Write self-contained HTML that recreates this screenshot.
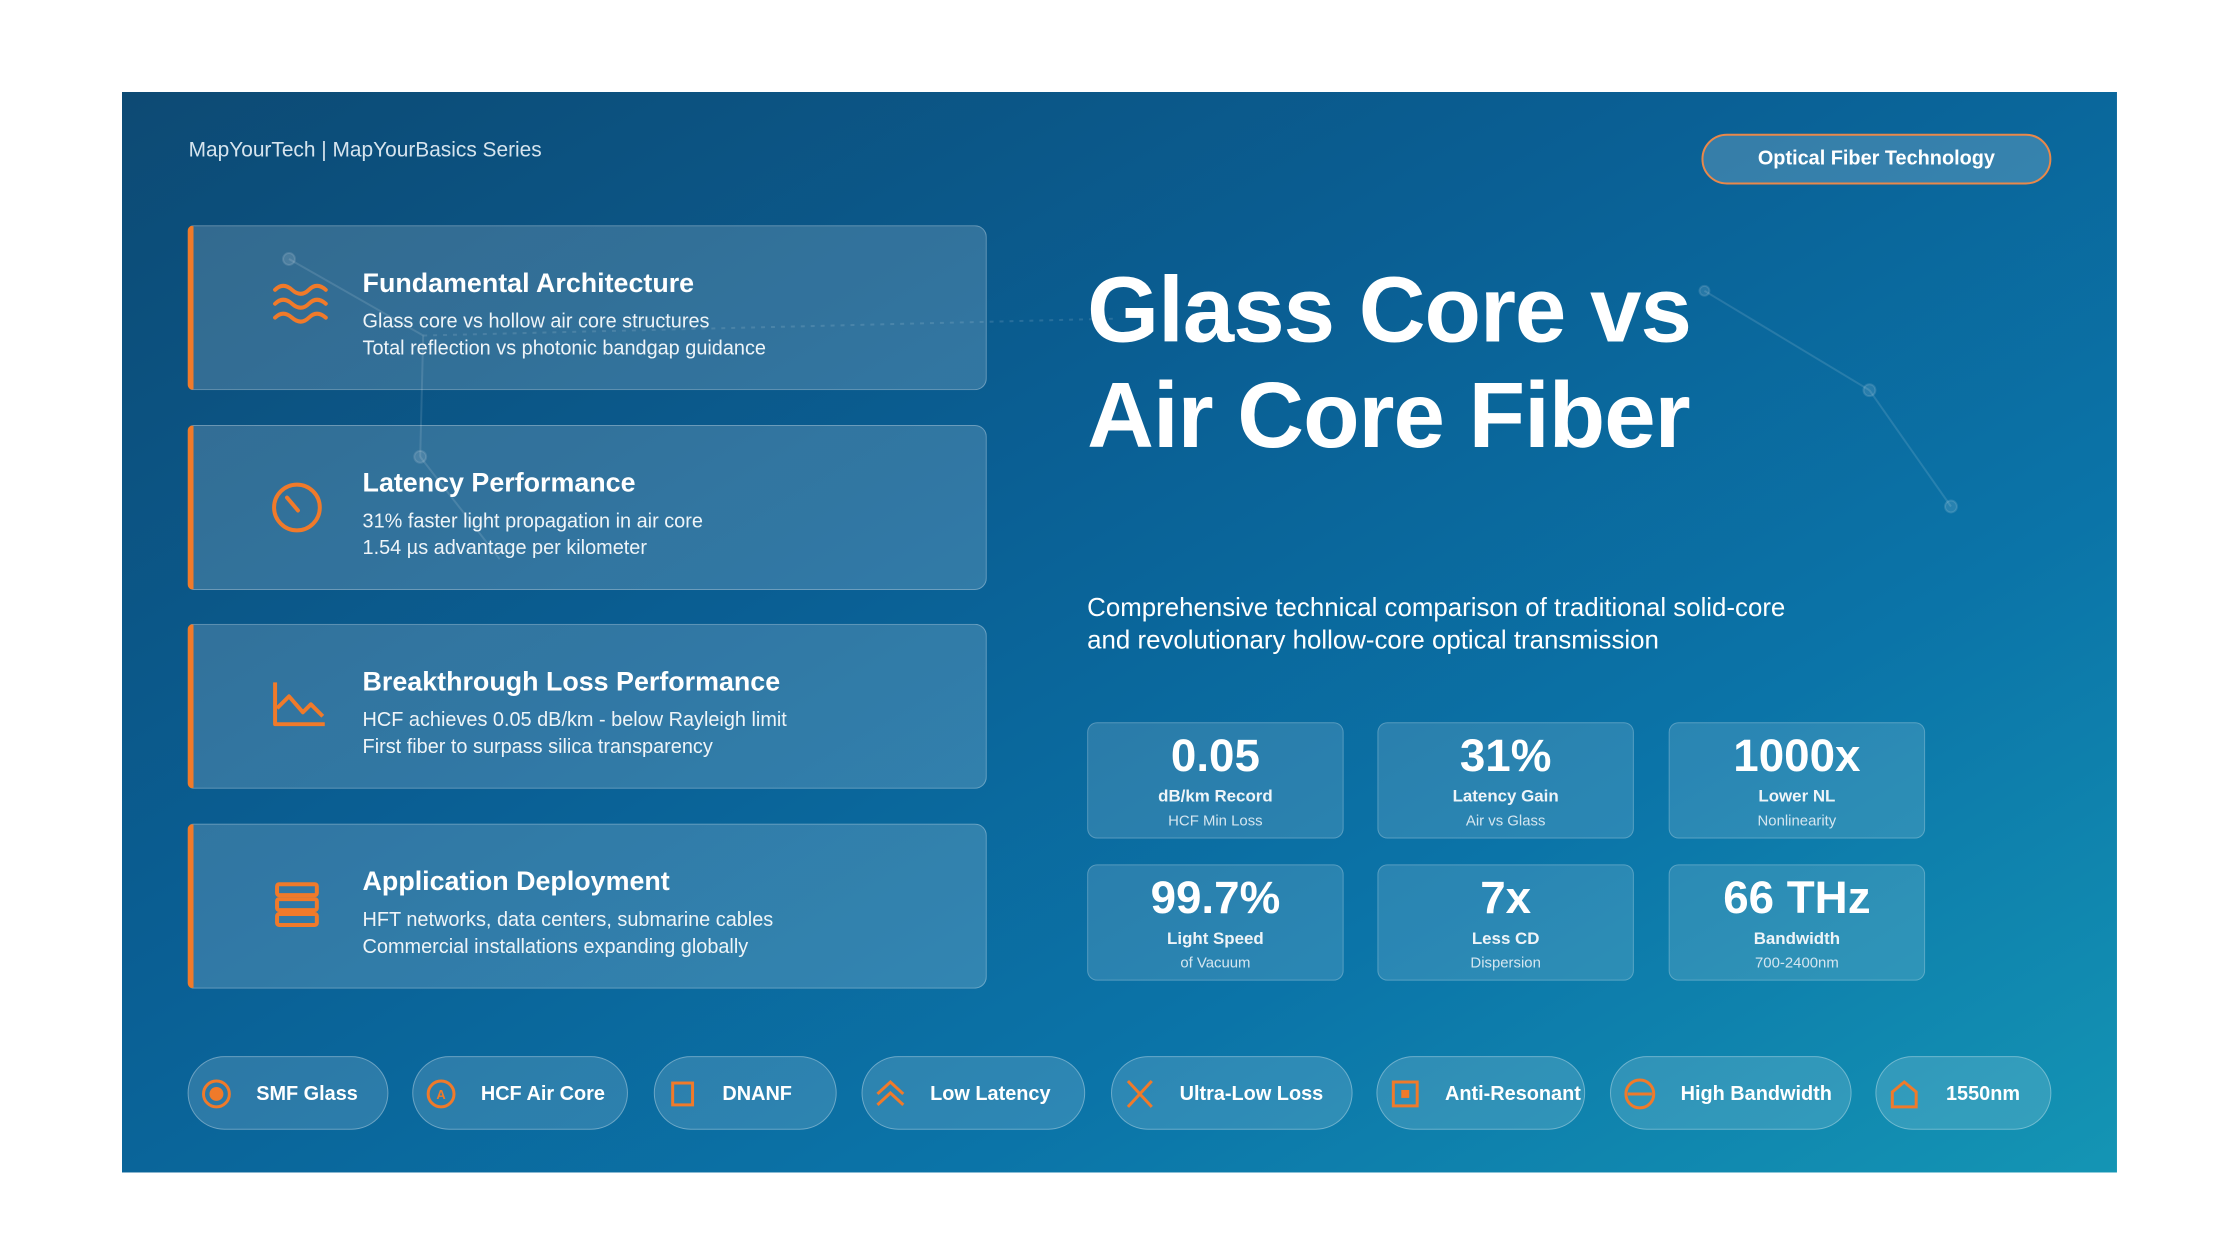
<!DOCTYPE html>
<html><head><meta charset="utf-8"><style>
*{margin:0;padding:0;box-sizing:border-box}
body{width:2240px;height:1260px;background:#fff;font-family:"Liberation Sans",sans-serif;position:relative;overflow:hidden;color:#fff}
.slide{position:absolute;left:122px;top:92px;width:2007px;height:1087px;background:linear-gradient(150deg,#0d4a74 0%,#0a5f94 40%,#0b74a8 70%,#1495b4 100%);overflow:hidden;transform:scale(0.994);transform-origin:0 0}
.abs{position:absolute}
.hdr{left:67px;top:47px;font-size:21px;color:#d6e4ee}
.tag{left:1589px;top:42px;width:352px;height:51px;border:2px solid #e9884a;border-radius:26px;background:rgba(255,255,255,0.18);font-weight:bold;font-size:20px;display:flex;align-items:center;justify-content:center}
.card{position:absolute;left:66px;width:804px;height:166px;background:rgba(255,255,255,0.16);border:1.5px solid rgba(255,255,255,0.28);border-left:6px solid #f07a2a;border-radius:6px 12px 12px 6px}
.card .t{position:absolute;left:170px;top:42px;font-size:27px;font-weight:bold}
.card .l{position:absolute;left:170px;font-size:20px;color:#eef4f8}
.card svg{position:absolute;left:78px;top:56px}
.big{left:971px;top:166px;font-size:93px;font-weight:bold;line-height:106px;letter-spacing:-1px}
.sub{left:971px;top:502px;font-size:26px;line-height:33px}
.stat{position:absolute;width:258px;height:117px;background:rgba(255,255,255,0.13);border:1.5px solid rgba(255,255,255,0.22);border-radius:10px;text-align:center}
.stat .v{position:absolute;top:5px;width:100%;font-size:46px;font-weight:bold}
.stat .a{position:absolute;top:64px;width:100%;font-size:17px;font-weight:bold;color:#eef4f8}
.stat .b{position:absolute;top:90px;width:100%;font-size:15px;color:#d5e6f0}
.pill{position:absolute;top:970px;height:74px;border:1.5px solid rgba(255,255,255,0.3);background:rgba(255,255,255,0.14);border-radius:37px;font-weight:bold;font-size:20px}
.pill span{position:absolute;top:26px}
.pill svg{position:absolute;top:21px;left:12px}
</style></head><body>
<div class="slide">
<svg class="abs" style="left:0;top:0" width="2007" height="1087">
<g stroke="rgba(255,255,255,0.12)" stroke-width="2" fill="rgba(255,255,255,0.12)">
<line x1="168" y1="168" x2="303" y2="245"/><line x1="303" y1="245" x2="300" y2="367"/><line x1="300" y1="367" x2="380" y2="470"/>
<line x1="1592" y1="200" x2="1758" y2="300"/><line x1="1758" y1="300" x2="1840" y2="417"/>
<line x1="303" y1="245" x2="1000" y2="228" stroke-dasharray="4 6"/>
<circle cx="168" cy="168" r="6"/><circle cx="300" cy="367" r="6"/><circle cx="1758" cy="300" r="6"/><circle cx="1840" cy="417" r="6"/><circle cx="1592" cy="200" r="5"/>
</g></svg>
<div class="abs hdr">MapYourTech | MapYourBasics Series</div>
<div class="abs tag">Optical Fiber Technology</div>

<div class="card" style="top:134px"><svg width="60" height="50" viewBox="0 0 60 50" fill="none" stroke="#f07a2a" stroke-width="4" stroke-linecap="round"><path d="M4 8q8-8 17 0t17 0 17 0"/><path d="M4 22q8-8 17 0t17 0 17 0"/><path d="M4 36q8-8 17 0t17 0 17 0"/></svg>
<div class="t">Fundamental Architecture</div><div class="l" style="top:85px">Glass core vs hollow air core structures</div><div class="l" style="top:112px">Total reflection vs photonic bandgap guidance</div></div>

<div class="card" style="top:335px"><svg width="60" height="60" viewBox="0 0 60 60" fill="none" stroke="#f07a2a" stroke-width="4" stroke-linecap="round"><circle cx="26" cy="26" r="23"/><line x1="16" y1="16" x2="27" y2="29"/></svg>
<div class="t">Latency Performance</div><div class="l" style="top:85px">31% faster light propagation in air core</div><div class="l" style="top:112px">1.54 µs advantage per kilometer</div></div>

<div class="card" style="top:535px"><svg width="60" height="50" viewBox="0 0 60 50" fill="none" stroke="#f07a2a" stroke-width="4" stroke-linejoin="round"><path d="M4 2v42h50"/><path d="M6 28l12-12 14 16 8-8 12 12"/></svg>
<div class="t">Breakthrough Loss Performance</div><div class="l" style="top:85px">HCF achieves 0.05 dB/km - below Rayleigh limit</div><div class="l" style="top:112px">First fiber to surpass silica transparency</div></div>

<div class="card" style="top:736px"><svg width="60" height="50" viewBox="0 0 60 50" fill="none" stroke="#f07a2a" stroke-width="4"><rect x="6" y="4" width="40" height="11" rx="2"/><rect x="6" y="19" width="40" height="11" rx="2"/><rect x="6" y="34" width="40" height="11" rx="2"/></svg>
<div class="t">Application Deployment</div><div class="l" style="top:85px">HFT networks, data centers, submarine cables</div><div class="l" style="top:112px">Commercial installations expanding globally</div></div>

<div class="abs big">Glass Core vs<br>Air Core Fiber</div>
<div class="abs sub">Comprehensive technical comparison of traditional solid-core<br>and revolutionary hollow-core optical transmission</div>

<div class="stat" style="left:971px;top:634px"><div class="v">0.05</div><div class="a">dB/km Record</div><div class="b">HCF Min Loss</div></div>
<div class="stat" style="left:1263px;top:634px"><div class="v">31%</div><div class="a">Latency Gain</div><div class="b">Air vs Glass</div></div>
<div class="stat" style="left:1556px;top:634px"><div class="v">1000x</div><div class="a">Lower NL</div><div class="b">Nonlinearity</div></div>
<div class="stat" style="left:971px;top:777px"><div class="v">99.7%</div><div class="a">Light Speed</div><div class="b">of Vacuum</div></div>
<div class="stat" style="left:1263px;top:777px"><div class="v">7x</div><div class="a">Less CD</div><div class="b">Dispersion</div></div>
<div class="stat" style="left:1556px;top:777px"><div class="v">66 THz</div><div class="a">Bandwidth</div><div class="b">700-2400nm</div></div>

<div class="pill" style="left:66px;width:202px"><svg width="32" height="32" viewBox="0 0 32 32"><circle cx="16" cy="16" r="13" fill="none" stroke="#f07a2a" stroke-width="3"/><circle cx="16" cy="16" r="7" fill="#f07a2a"/></svg><span style="left:68px">SMF Glass</span></div>
<div class="pill" style="left:292px;width:217px"><svg width="32" height="32" viewBox="0 0 32 32"><circle cx="16" cy="16" r="13" fill="none" stroke="#f07a2a" stroke-width="3"/><text x="16" y="21" font-size="13" fill="#f07a2a" text-anchor="middle" font-family="Liberation Sans" font-weight="bold">A</text></svg><span style="left:68px">HCF Air Core</span></div>
<div class="pill" style="left:535px;width:184px"><svg width="32" height="32" viewBox="0 0 32 32"><rect x="6" y="5" width="20" height="22" fill="none" stroke="#f07a2a" stroke-width="3"/></svg><span style="left:68px">DNANF</span></div>
<div class="pill" style="left:744px;width:225px"><svg width="32" height="32" viewBox="0 0 32 32" fill="none" stroke="#f07a2a" stroke-width="3"><path d="M3 16l13-12 13 12M3 27l13-12 13 12"/></svg><span style="left:68px">Low Latency</span></div>
<div class="pill" style="left:995px;width:243px"><svg width="32" height="32" viewBox="0 0 32 32" fill="none" stroke="#f07a2a" stroke-width="3"><path d="M4 3l24 26M28 3L4 29"/></svg><span style="left:68px">Ultra-Low Loss</span></div>
<div class="pill" style="left:1262px;width:210px"><svg width="32" height="32" viewBox="0 0 32 32"><rect x="4" y="4" width="24" height="24" fill="none" stroke="#f07a2a" stroke-width="3"/><rect x="12" y="12" width="8" height="8" fill="#f07a2a"/></svg><span style="left:68px">Anti-Resonant</span></div>
<div class="pill" style="left:1497px;width:243px"><svg width="34" height="32" viewBox="0 0 34 32" fill="none" stroke="#f07a2a" stroke-width="3"><circle cx="17" cy="16" r="14"/><line x1="5" y1="16" x2="29" y2="16"/></svg><span style="left:70px">High Bandwidth</span></div>
<div class="pill" style="left:1764px;width:177px"><svg width="32" height="32" viewBox="0 0 32 32" fill="none" stroke="#f07a2a" stroke-width="3"><path d="M4 14l12-10 12 10v15H4z"/></svg><span style="left:70px">1550nm</span></div>
</div>
</body></html>
